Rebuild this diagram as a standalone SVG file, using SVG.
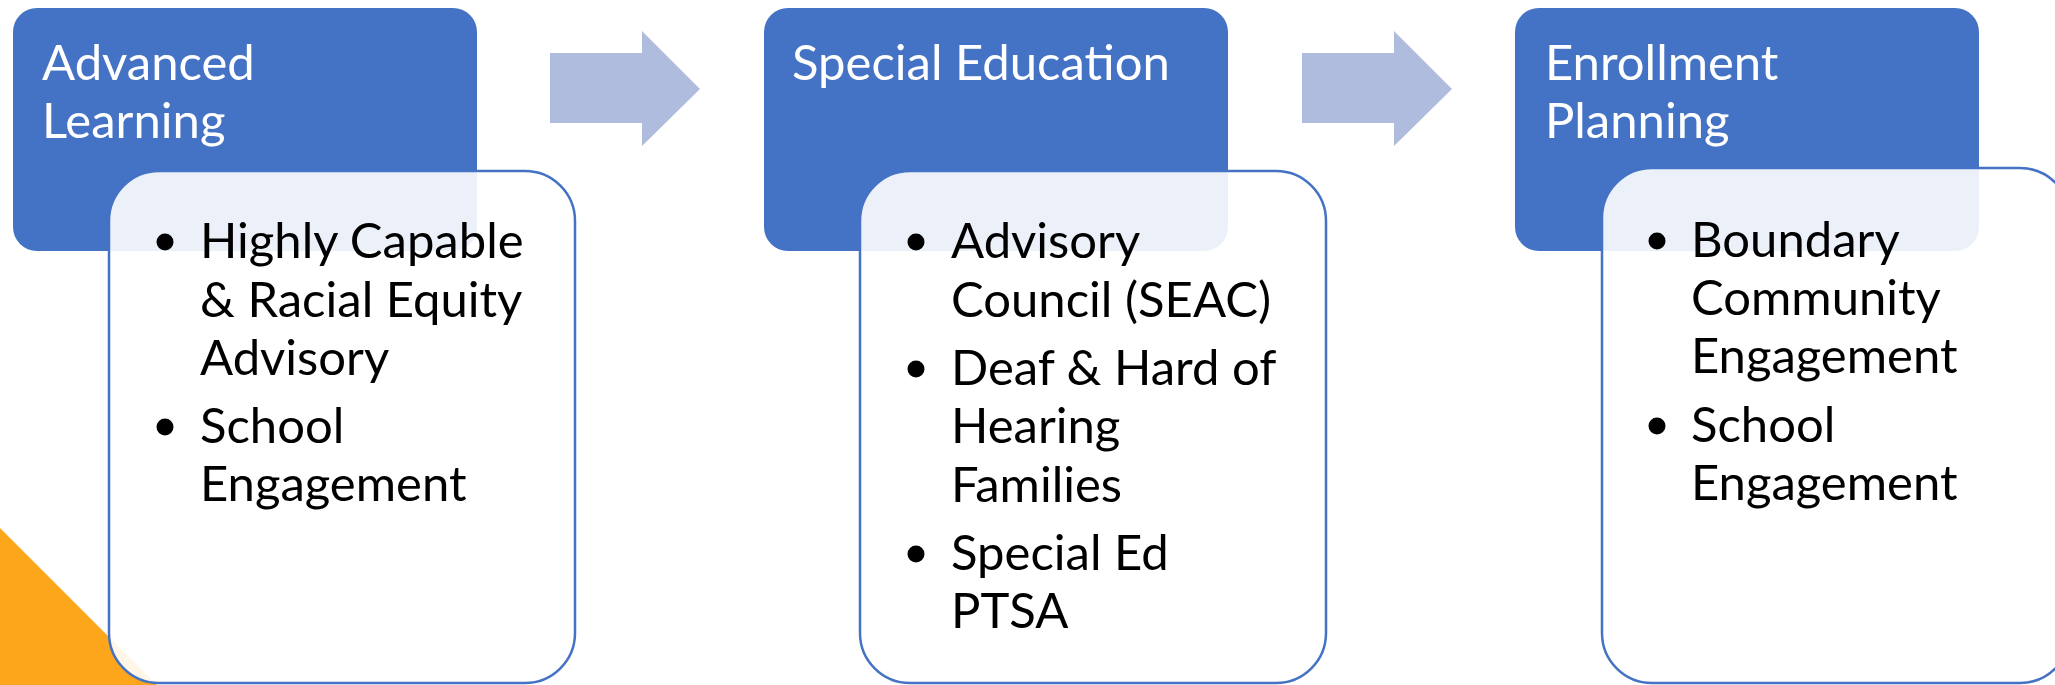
<svg xmlns="http://www.w3.org/2000/svg" xmlns:xlink="http://www.w3.org/1999/xlink" width="2055" height="685" viewBox="0 0 2055 685">
<style>
.head{fill:#4472C4}
.list{fill:#FFFFFF;fill-opacity:0.9;stroke:#4472C4;stroke-width:2.5}
.ht{font-family:Lato,"Liberation Sans",sans-serif;font-size:49px;fill:#FFFFFF}
.bt{font-family:Lato,"Liberation Sans",sans-serif;font-size:49px;fill:#000000}
.dot{fill:#000000}
.arrow{fill:#AFBCDE}
</style>
<defs>
<polygon id="arr" points="0,53 92,53 92,31 150,89 92,146 92,123 0,123"/>
</defs>
<rect width="2055" height="685" fill="#FFFFFF"/>
<polygon points="0,528 157,685 0,685" fill="#FDA61C"/>
<g id="connectors">
<use xlink:href="#arr" class="arrow" x="550" y="0"/>
<use xlink:href="#arr" class="arrow" x="1302" y="0"/>
</g>
<g id="advanced-learning">
<rect class="head" x="13" y="8" width="464" height="243" rx="24"/>
<text class="ht" x="42" y="80">Advanced</text>
<text class="ht" x="42" y="138">Learning</text>
</g>
<g id="advanced-learning-list">
<rect class="list" x="109" y="171" width="466" height="512" rx="50"/>
<circle class="dot" cx="165" cy="242" r="8.5"/>
<text class="bt" x="200" y="258">Highly Capable</text>
<text class="bt" x="200" y="317">&amp; Racial Equity</text>
<text class="bt" x="200" y="375">Advisory</text>
<circle class="dot" cx="165" cy="427" r="8.5"/>
<text class="bt" x="200" y="443">School</text>
<text class="bt" x="200" y="501">Engagement</text>
</g>
<g id="special-education">
<rect class="head" x="764" y="8" width="464" height="243" rx="24"/>
<text class="ht" x="792" y="80">Special Education</text>
</g>
<g id="special-education-list">
<rect class="list" x="860" y="171" width="466" height="512" rx="50"/>
<circle class="dot" cx="916" cy="242" r="8.5"/>
<text class="bt" x="951" y="258">Advisory</text>
<text class="bt" x="951" y="317">Council (SEAC)</text>
<circle class="dot" cx="916" cy="369" r="8.5"/>
<text class="bt" x="951" y="385">Deaf &amp; Hard of</text>
<text class="bt" x="951" y="443">Hearing</text>
<text class="bt" x="951" y="502">Families</text>
<circle class="dot" cx="916" cy="554" r="8.5"/>
<text class="bt" x="951" y="570">Special Ed</text>
<text class="bt" x="951" y="628">PTSA</text>
</g>
<g id="enrollment-planning">
<rect class="head" x="1515" y="8" width="464" height="243" rx="24"/>
<text class="ht" x="1545" y="80">Enrollment</text>
<text class="ht" x="1545" y="138">Planning</text>
</g>
<g id="enrollment-planning-list">
<rect class="list" x="1602" y="168" width="468" height="515" rx="50"/>
<circle class="dot" cx="1657" cy="241" r="8.5"/>
<text class="bt" x="1691" y="257">Boundary</text>
<text class="bt" x="1691" y="315">Community</text>
<text class="bt" x="1691" y="373">Engagement</text>
<circle class="dot" cx="1657" cy="426" r="8.5"/>
<text class="bt" x="1691" y="442">School</text>
<text class="bt" x="1691" y="500">Engagement</text>
</g>
</svg>
